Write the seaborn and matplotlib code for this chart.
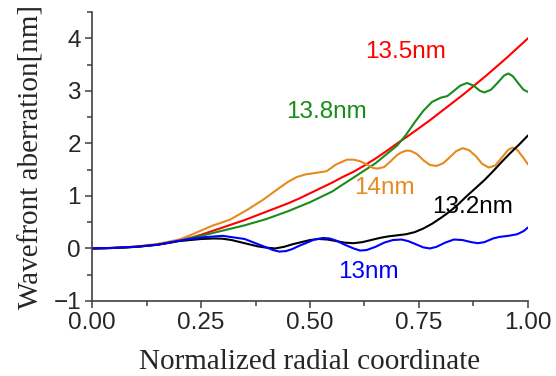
import pandas as pd
import matplotlib
matplotlib.use("Agg")
import matplotlib.pyplot as plt
import seaborn as sns
from matplotlib.ticker import MultipleLocator

# 13.5 nm (red, smooth)
x_135 = [0, .025, .05, .075, .1, .125, .15, .175, .2, .225, .25, .275, .3, .325, .35, .375,
         .4, .425, .45, .475, .5, .525, .55, .575, .6, .625, .65, .675, .7, .725, .75, .775,
         .8, .825, .85, .875, .9, .925, .95, .975, 1.0]
y_135 = [0, .003, .01, .02, .035, .05, .075, .105, .15, .2, .26, .33, .4, .47, .54, .62,
         .7, .78, .86, .95, 1.05, 1.15, 1.25, 1.36, 1.46, 1.58, 1.71, 1.85, 2.0, 2.14, 2.29, 2.44,
         2.6, 2.76, 2.92, 3.09, 3.26, 3.44, 3.62, 3.81, 4.0]

# 13.8 nm (green)
x_138 = [0, .05, .1, .15, .2, .25, .3, .35, .4, .45, .5, .55, .6, .65, .7, .72, .74, .76, .78,
         .8, .815, .83, .845, .86, .875, .89, .9, .915, .93, .945, .955, .965, .98, .99, 1.0]
y_138 = [0, .01, .033, .075, .15, .24, .34, .44, .56, .71, .88, 1.08, 1.35, 1.62, 1.96, 2.16,
         2.4, 2.62, 2.79, 2.87, 2.9, 3.0, 3.1, 3.15, 3.1, 3.0, 2.97, 3.02, 3.15, 3.29, 3.33, 3.28,
         3.12, 3.02, 2.98]

# 14 nm (orange)
x_14 = [0, .05, .1, .15, .2, .225, .25, .275, .3, .317, .355, .393, .431, .45, .47, .49, .507,
        .538, .56, .585, .6, .615, .63, .645, .655, .67, .685, .7, .71, .72, .73, .745, .76, .775,
        .79, .805, .82, .835, .85, .865, .88, .895, .91, .925, .94, .955, .965, .975, .99, 1.0]
y_14 = [0, .01, .035, .085, .17, .25, .34, .43, .5, .55, .73, .93, 1.16, 1.27, 1.36, 1.41, 1.43,
        1.47, 1.6, 1.69, 1.69, 1.66, 1.6, 1.53, 1.52, 1.55, 1.66, 1.78, 1.83, 1.86, 1.86, 1.8,
        1.68, 1.59, 1.57, 1.62, 1.73, 1.85, 1.91, 1.87, 1.76, 1.61, 1.54, 1.58, 1.73, 1.88, 1.92,
        1.88, 1.72, 1.6]

# 13.2 nm (black)
x_132 = [0, .05, .1, .15, .2, .25, .28, .3, .32, .34, .36, .38, .4, .42, .44, .46, .48, .5,
         .52, .54, .56, .58, .6, .62, .64, .66, .68, .7, .72, .74, .76, .78, .8, .82, .84, .86,
         .88, .9, .92, .94, .96, .98, 1.0]
y_132 = [0, .01, .03, .07, .14, .18, .19, .185, .16, .12, .08, .04, .015, .0, .03, .08, .12, .16,
         .18, .17, .14, .11, .1, .12, .16, .2, .23, .25, .27, .31, .38, .47, .58, .7, .84, 1.0,
         1.15, 1.3, 1.47, 1.65, 1.82, 1.98, 2.15]

# 13 nm (blue)
x_13 = [0, .05, .1, .15, .2, .25, .3, .35, .4, .415, .43, .445, .46, .475, .49, .51, .53, .545,
        .56, .58, .6, .615, .63, .65, .67, .69, .71, .725, .74, .76, .775, .79, .81, .83, .85,
        .87, .885, .9, .92, .935, .955, .975, .99, 1.0]
y_13 = [0, .01, .03, .07, .15, .21, .24, .18, .02, -.03, -.06, -.05, -.01, .05, .1, .17, .2, .19,
        .15, .07, .0, -.04, -.03, .03, .11, .16, .17, .14, .09, .02, .0, .03, .11, .17, .16,
        .12, .1, .12, .19, .22, .24, .27, .33, .4]

series = [
    ("13.5nm", x_135, y_135, "#ff0000", (0.72, 3.73)),
    ("13.8nm", x_138, y_138, "#1a8c1a", (0.537, 2.6)),
    ("14nm", x_14, y_14, "#e6891f", (0.67, 1.16)),
    ("13.2nm", x_132, y_132, "#000000", (0.872, 0.78)),
    ("13nm", x_13, y_13, "#0000ff", (0.635, -0.44)),
]

sns.set_style("ticks")
plt.rcParams["font.family"] = ["Liberation Sans", "DejaVu Sans"]

fig = plt.figure(figsize=(5.56, 3.76), dpi=100)
ax = fig.add_axes([0.1655, 0.1995, 0.7841, 0.7685])

for name, xs, ys, color, (tx, ty) in series:
    df = pd.DataFrame({"r": xs, "w": ys})
    sns.lineplot(data=df, x="r", y="w", ax=ax, color=color, linewidth=1.5, sort=False)
    ax.text(tx, ty, name, color=color, fontsize=17.5, ha="center", va="center")

ax.set_xlim(0, 1)
ax.set_ylim(-1, 4.5)
ax.xaxis.set_major_locator(MultipleLocator(0.25))
ax.xaxis.set_minor_locator(MultipleLocator(0.125))
ax.yaxis.set_major_locator(MultipleLocator(1))
ax.yaxis.set_minor_locator(MultipleLocator(0.5))
ax.set_xticklabels([f"{v:.2f}" for v in ax.get_xticks()])
ax.set_yticks([-1, 0, 1, 2, 3, 4])
ax.set_yticklabels(["\u22121", "0", "1", "2", "3", "4"])

sns.despine(ax=ax)
for s in ["left", "bottom"]:
    ax.spines[s].set_color("#404040")
    ax.spines[s].set_linewidth(1.2)
ax.tick_params(which="major", length=5, width=1.1, color="#404040", labelsize=17.5, pad=3)
ax.tick_params(which="minor", length=3.5, width=1.1, color="#404040")

ax.set_xlabel("Normalized radial coordinate", family="Liberation Serif", fontsize=21, labelpad=11)
ax.set_ylabel("Wavefront aberration[nm]", family="Liberation Serif", fontsize=21, labelpad=6)

fig.savefig("out.png", dpi=100)
